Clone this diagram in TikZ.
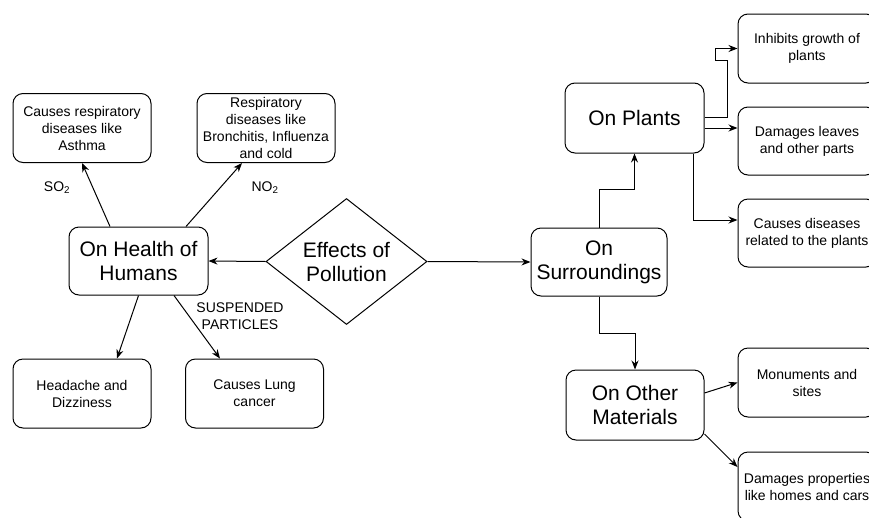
\documentclass[tikz,border=0pt]{standalone}
\usepackage{fontspec}
\setmainfont{Liberation Sans}
\usetikzlibrary{arrows.meta,shapes.geometric}

\begin{document}
\begin{tikzpicture}[x=1pt,y=-1pt,
    box/.style={draw,line width=1pt,rounded corners=10pt,align=center,
      minimum width=138pt,minimum height=69pt,inner sep=2pt,
      font=\fontsize{14}{17}\selectfont},
    bigbox/.style={box,font=\fontsize{21}{24}\selectfont},
    lbl/.style={font=\fontsize{14}{17}\selectfont,align=center,inner sep=0pt},
    arr/.style={line width=1pt,-{Stealth[length=9pt,width=7pt]}}]

        \useasboundingbox (0,0) rectangle (869,517) ;

        % centre
        \node [draw,line width=1pt,diamond,aspect=1.28,inner sep=0pt,
          minimum width=161pt,minimum height=126pt,align=center,
          font=\fontsize{21}{24}\selectfont] (effects) at (346.5,261.5)
          {Effects of\\Pollution} ;

        % humans side
        \node [bigbox,minimum width=139pt,minimum height=68pt] (humans) at (138.5,261) {On Health of\\Humans} ;
        \node [box] (asthma) at (82,128) {Causes respiratory\\diseases like\\Asthma} ;
        \node [box] (bronch) at (266,128) {Respiratory\\diseases like\\Bronchitis, Influenza\\and cold} ;
        \node [box] (headache) at (82,393.5) {Headache and\\Dizziness} ;
        \node [box] (lung) at (254.5,393.5) {Causes Lung\\cancer} ;

        \node [lbl] (so) at (57,188) {SO\textsubscript{2}} ;
        \node [lbl] (no) at (265,188) {NO\textsubscript{2}} ;
        \node [lbl] (spm) at (240,316) {SUSPENDED\\PARTICLES} ;

        % surroundings side
        \node [bigbox,minimum width=136pt,minimum height=68pt] (surr) at (599,262) {On\\Surroundings} ;
        \node [bigbox,minimum width=139pt,minimum height=70pt] (plants) at (634.5,118) {On Plants} ;
        \node [bigbox,minimum height=70pt] (materials) at (635,405) {On Other\\Materials} ;

        \node [box] (growth) at (807,48.5) {Inhibits growth of\\plants} ;
        \node [box,minimum height=68pt] (leaves) at (807,141) {Damages leaves\\and other parts} ;
        \node [box,minimum height=68pt] (plantdis) at (807,233) {Causes diseases\\related to the plants} ;
        \node [box] (monu) at (807,382.5) {Monuments and\\sites} ;
        \node [box] (props) at (807,486.5) {Damages properties\\like homes and cars} ;

        \draw [arr] (effects.west) to (humans.east) ;
        \draw [arr] (effects.east) to (surr.west) ;

        \draw [arr] ([xshift=-28.5pt]humans.north) to (asthma.south) ;
        \draw [arr] ([xshift=47.5pt]humans.north) to ([xshift=-24pt]bronch.south) ;
        \draw [arr] (humans.south) to ([xshift=35pt]headache.north) ;
        \draw [arr] ([xshift=35.5pt]humans.south) to ([xshift=-34.5pt]lung.north) ;

        \draw [arr] (surr.north) -- ++(0,-38) -| (plants.south) ;
        \draw [arr] (surr.south) -- ++(0,37) -| (materials.north) ;

        \draw [arr] ([yshift=1pt]plants.east) -- ++(23,0) -- ++(0,-57) -- ++(-12,0) |- (growth.west) ;
        \draw [arr] ([yshift=-10pt]plants.east) to ([yshift=13pt]leaves.west) ;
        \draw [arr] ([xshift=58.5pt]plants.south) |- ([yshift=13pt]plantdis.west) ;

        \draw [arr] ([yshift=12pt]materials.east) to (monu.west) ;
        \draw [arr] ([yshift=-29pt]materials.east) to ([yshift=19.5pt]props.west) ;

\end{tikzpicture}
\end{document}
